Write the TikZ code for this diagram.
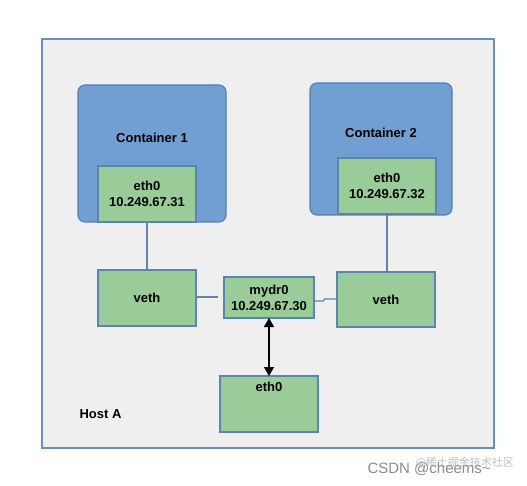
\documentclass[tikz,border=0pt]{standalone}
\usepackage{fontspec}
\setmainfont{Liberation Sans}
\newfontfamily\cjk{Noto Sans CJK SC}
\usetikzlibrary{arrows.meta}
\definecolor{hostfill}{HTML}{EFEFEF}
\definecolor{hostline}{HTML}{6C8EBF}
\definecolor{contfill}{HTML}{729FD2}
\definecolor{contline}{HTML}{4F7FB5}
\definecolor{greenfill}{HTML}{99CC99}
\definecolor{greenline}{HTML}{5B84B1}
\definecolor{wire}{HTML}{5B84B1}
\tikzset{
  host/.style={draw=hostline, fill=hostfill, line width=1.1pt},
  cont/.style={draw=contline, fill=contfill, rounded corners=7pt, line width=1.1pt},
  gbox/.style={draw=greenline, fill=greenfill, line width=1.1pt},
  lbl/.style={font=\fontsize{13}{16}\selectfont\bfseries, align=center, text=black},
  wireline/.style={draw=wire, line width=1.2pt},
}
\begin{document}
\begin{tikzpicture}[x=1pt,y=-1pt]
\useasboundingbox (0,0) rectangle (527,486);
\fill[white] (0,0) rectangle (527,486);
% host
\draw[host] (42,39) rectangle (494,448);
\node[lbl, anchor=west] (hostlbl) at (76,414) {Host A};
% containers
\draw[cont] (78,85) rectangle (226,222);
\node[lbl] (c1lbl) at (152,138) {Container 1};
\draw[cont] (310,83) rectangle (452,215);
\node[lbl] (c2lbl) at (381,133) {Container 2};
% green boxes
\draw[gbox] (98,166) rectangle (196,222);
\node[lbl] (e1) at (147,194) {eth0\\10.249.67.31};
\draw[gbox] (338,158) rectangle (436,214);
\node[lbl] (e2) at (387,186) {eth0\\10.249.67.32};
\draw[gbox] (98,270) rectangle (196,326);
\node[lbl] (v1) at (147,298) {veth};
\draw[gbox] (337,272) rectangle (435,327);
\node[lbl] (v2) at (386,300) {veth};
\draw[gbox] (224,277) rectangle (314,318);
\node[lbl] (br) at (269,298) {mydr0\\10.249.67.30};
\draw[gbox] (220,376) rectangle (318,432);
\node[lbl, anchor=north] (e0) at (269,379) {eth0};
% named anchors for connectors
\coordinate (e1b) at (147,222);
\coordinate (v1t) at (147,270);
\coordinate (e2b) at (387,214);
\coordinate (v2t) at (387,272);
\coordinate (v1r) at (196,297);
\coordinate (v1end) at (218,297);
\coordinate (brr) at (314,301);
\coordinate (v2l) at (337,299);
\coordinate (brb) at (269,318);
\coordinate (e0t) at (269,376);
\draw[wireline] (e1b) -- (v1t);
\draw[wireline] (e2b) -- (v2t);
\draw[wireline] (v1r) -- (v1end);
\draw[wireline] (brr) -- (323,301) -- (324.5,299) -- (v2l);
\draw[line width=1.3pt, {Triangle[length=9pt,width=10pt]}-{Triangle[length=9pt,width=10pt]}] (brb) -- (e0t);
% watermark
\node[anchor=west, text=black!45, font=\fontsize{15}{15}\selectfont] (wm) at (364,469) {CSDN @cheems\textasciitilde};
\node[anchor=west, text=black!35, opacity=0.7, font=\cjk\fontsize{11}{11}\selectfont] (wm2) at (412,463) {@稀土掘金技术社区};
\end{tikzpicture}
\end{document}
